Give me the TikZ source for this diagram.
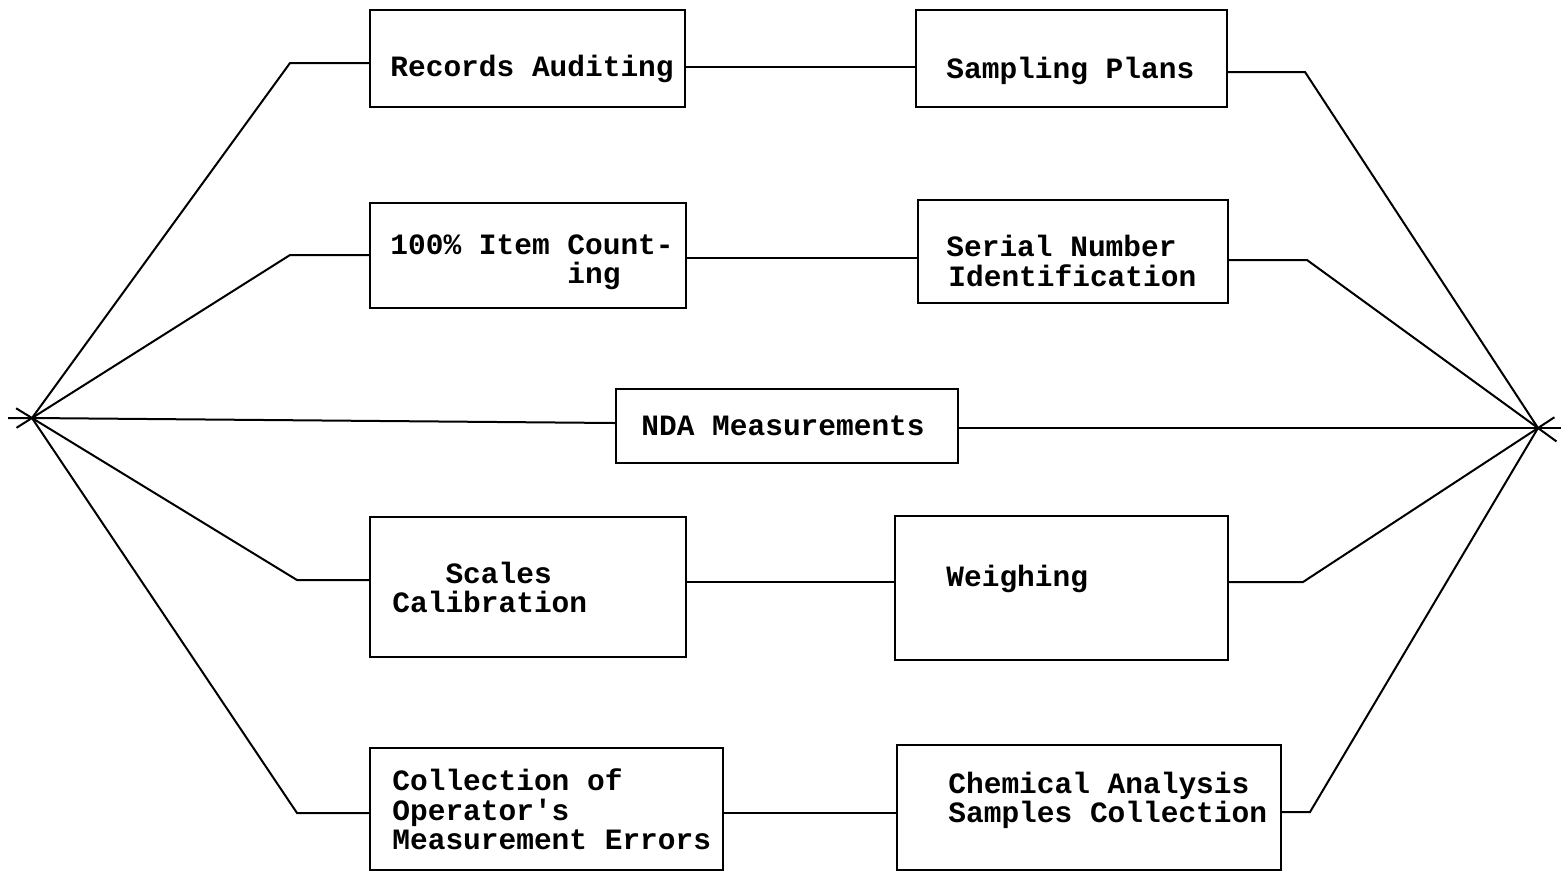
\documentclass[tikz,border=0pt]{standalone}
\usepackage{fontspec}
\setmonofont{Liberation Mono}
\usetikzlibrary{calc}
\begin{document}
\begin{tikzpicture}[x=0.5pt,y=-0.5pt,
  box/.style={draw,rectangle,inner sep=0pt,line width=1pt},
  lbl/.style={anchor=base west,inner sep=0pt,font=\ttfamily\bfseries\fontsize{14.75}{15}\selectfont},
  wire/.style={line width=1pt,line join=miter}]
\useasboundingbox (0,0) rectangle (1561,874);
% boxes
\node[box,minimum width=157.5pt,minimum height=48.5pt] (ra) at (527.5,58.5) {};
\node[box,minimum width=155.5pt,minimum height=48.5pt] (sp) at (1071.5,58.5) {};
\node[box,minimum width=158pt,minimum height=52.5pt] (ic) at (528,255.5) {};
\node[box,minimum width=155pt,minimum height=51.5pt] (sn) at (1073,251.5) {};
\node[box,minimum width=171pt,minimum height=37pt] (nda) at (787,426) {};
\node[box,minimum width=158pt,minimum height=70pt] (sc) at (528,587) {};
\node[box,minimum width=166.5pt,minimum height=72pt] (we) at (1061.5,588) {};
\node[box,minimum width=176.5pt,minimum height=61pt] (co) at (546.5,809) {};
\node[box,minimum width=192pt,minimum height=62.5pt] (ch) at (1089,807.5) {};
% labels
\node[lbl] (raT) at (390,76) {Records Auditing};
\node[lbl] (spT) at (946,78) {Sampling Plans};
\node[lbl] (icT1) at (390,254) {100\% Item Count-};
\node[lbl] (icT2) at (390,283) {\phantom{100\% Item~}ing};
\node[lbl] (snT1) at (946,256) {Serial Number};
\node[lbl] (snT2) at (948,286) {Identification};
\node[lbl] (ndaT) at (641,435) {NDA Measurements};
\node[lbl] (scT1) at (392,583) {\phantom{Cal}Scales};
\node[lbl] (scT2) at (392,612) {Calibration};
\node[lbl] (weT) at (946,586) {Weighing};
\node[lbl] (coT1) at (392,790) {Collection of};
\node[lbl] (coT2) at (392,820) {Operator's};
\node[lbl] (coT3) at (392,849) {Measurement Errors};
\node[lbl] (chT1) at (948,793) {Chemical Analysis};
\node[lbl] (chT2) at (948,822) {Samples Collection};
% hubs and bends
\coordinate (hubL) at (32,418);
\coordinate (hubR) at (1538,428);
\coordinate (xl) at (8,418);
\coordinate (xr) at (1561,428);
\coordinate (l1) at (290,63);
\coordinate (l2) at (290,255);
\coordinate (l4) at (297,580);
\coordinate (l5) at (297,813);
\coordinate (r1) at (1305,72);
\coordinate (r2) at (1307,260);
\coordinate (r4) at (1303,582);
\coordinate (r5) at (1310,812);
\coordinate (m1) at (800,67);
\coordinate (m2) at (800,258);
\coordinate (m4) at (800,582);
\coordinate (m5) at (800,813);
% row 1
\draw[wire] (hubL) -- (l1) -- (l1 -| ra.west);
\draw[wire] (m1 -| ra.east) -- (m1 -| sp.west);
\draw[wire] (sp.east |- r1) -- (r1) -- (hubR);
% row 2
\draw[wire] (hubL) -- (l2) -- (l2 -| ic.west);
\draw[wire] (m2 -| ic.east) -- (m2 -| sn.west);
\draw[wire] (sn.east |- r2) -- (r2) -- (hubR);
% row 3
\draw[wire] (xl) -- (hubL) -- ($(nda.west)+(0,-3)$);
\draw[wire] ($(nda.east)+(0,2)$) -- (hubR) -- (xr);
% row 4
\draw[wire] (hubL) -- (l4) -- (l4 -| sc.west);
\draw[wire] (m4 -| sc.east) -- (m4 -| we.west);
\draw[wire] (we.east |- r4) -- (r4) -- (hubR);
% row 5
\draw[wire] (hubL) -- (l5) -- (l5 -| co.west);
\draw[wire] (m5 -| co.east) -- (m5 -| ch.west);
\draw[wire] (ch.east |- r5) -- (r5) -- (hubR);
% cross ticks at hubs
\draw[wire] ($(hubL)!-0.06!(l2)$) -- (hubL);
\draw[wire] ($(hubL)!-0.06!(l4)$) -- (hubL);
\draw[wire] ($(hubR)!-0.08!(r2)$) -- (hubR);
\draw[wire] ($(hubR)!-0.07!(r4)$) -- (hubR);
\end{tikzpicture}
\end{document}
